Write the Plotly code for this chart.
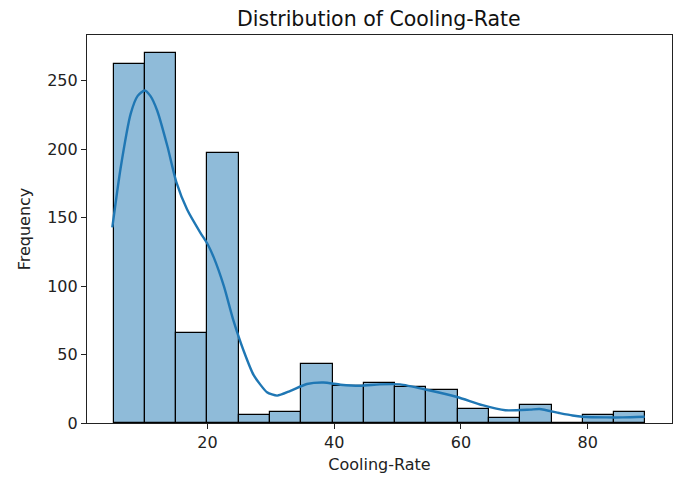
import numpy as np
import plotly.graph_objects as go

# Histogram of cooling rates: 17 equal-width bins between the data extremes
rate_min = 5.2
rate_max = 89.1
counts = [262, 270, 66, 197, 6, 8, 43, 27, 29, 26, 24, 10, 4, 13, 0, 6, 8]

# Kernel density estimate, scaled to counts
kde_x = [5.0, 6.3, 7.9, 9.0, 10.1, 11.0, 12.1, 13.7, 15.1, 16.8, 18.9, 20.0,
         21.0, 22.6, 24.1, 25.7, 27.3, 29.4, 31.0, 33.1, 35.7, 38.3, 41.0,
         44.1, 47.2, 50.4, 54.4, 59.4, 63.4, 67.0, 70.9, 72.4, 75.5, 77.6,
         79.2, 82.9, 85.5, 89.0]
kde_y = [143, 186, 226, 239, 243, 239, 228, 202, 176, 156, 139, 131,
         121, 100, 75, 53, 35, 22.5, 20, 23.5, 28.5, 29.6, 28,
         27.2, 28.2, 28.2, 24.5, 19, 13, 9.3, 9.8, 10.2, 7.3, 5.5,
         4.6, 4.1, 4.1, 4.6]

x_ticks = [20, 40, 60, 80]
y_ticks = [0, 50, 100, 150, 200, 250]

edges = np.linspace(rate_min, rate_max, len(counts) + 1)
centers = (edges[:-1] + edges[1:]) / 2
bin_width = edges[1] - edges[0]

span = rate_max - rate_min
x_range = [rate_min - 0.05 * span, rate_max + 0.05 * span]
y_range = [0, max(counts) * 1.05]

FONT = "DejaVu Sans"
INK = "#222222"

fig = go.Figure()
fig.add_trace(go.Bar(
    x=centers, y=counts, width=bin_width,
    marker=dict(color="rgba(31,119,180,0.5)",
                line=dict(color="black", width=1.2)),
    showlegend=False, hoverinfo="x+y",
))
fig.add_trace(go.Scatter(
    x=kde_x, y=kde_y, mode="lines",
    line=dict(color="#1f77b4", width=2.4, shape="spline", smoothing=0.6),
    showlegend=False,
))

axis_common = dict(
    showgrid=False, zeroline=False, showline=True, mirror=True,
    linecolor=INK, linewidth=1.2, ticks="outside", ticklen=5,
    tickwidth=1.2, tickcolor=INK,
    tickfont=dict(family=FONT, size=16, color=INK),
)

fig.update_layout(
    width=682, height=483,
    margin=dict(l=87, r=10, t=35, b=60),
    paper_bgcolor="white", plot_bgcolor="white",
    bargap=0,
    title=dict(text="Distribution of Cooling-Rate",
               font=dict(family=FONT, size=20.5, color="#111111"),
               x=0.5555, xanchor="center", y=0.962, yanchor="middle"),
    xaxis=dict(range=x_range, tickvals=x_ticks,
               title=dict(text="Cooling-Rate", standoff=7,
                          font=dict(family=FONT, size=16, color=INK)),
               **axis_common),
    yaxis=dict(range=y_range, tickvals=y_ticks,
               title=dict(text="Frequency", standoff=12,
                          font=dict(family=FONT, size=16, color=INK)),
               **axis_common),
)

fig.write_html("out.html")
